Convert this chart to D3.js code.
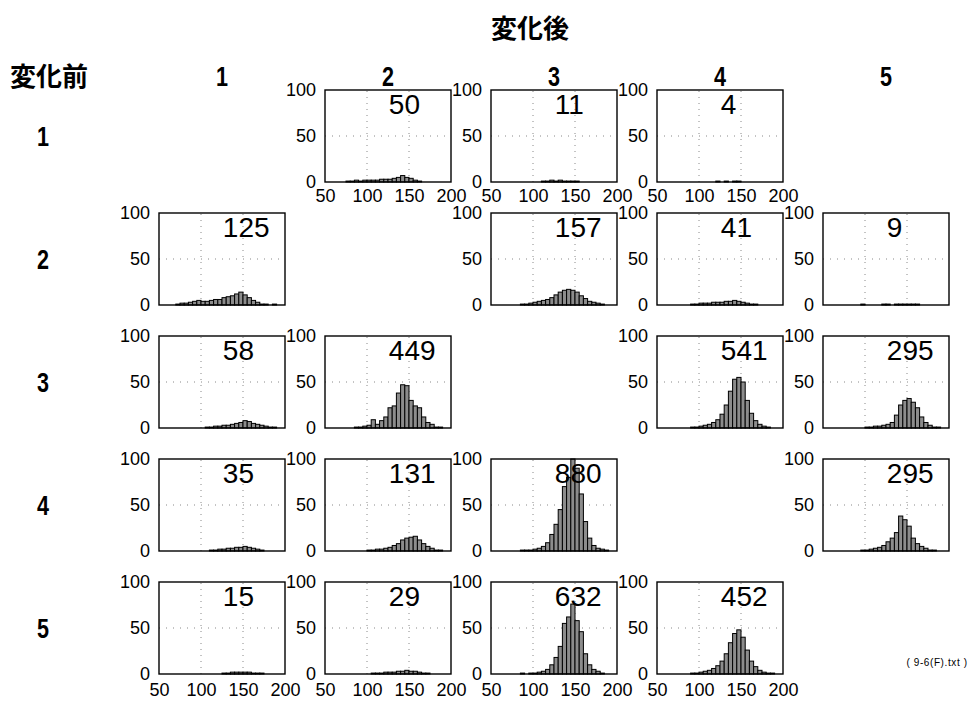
<!DOCTYPE html>
<html>
<head>
<meta charset="utf-8">
<script src="https://cdn.jsdelivr.net/npm/d3@7"></script>
<style>
  body { margin: 0; background: #fff; }
  svg text { font-family: "Liberation Sans", Arial, sans-serif; fill: #000; }
  .jp { font-family: "Noto Sans CJK JP", sans-serif; font-weight: 700; }
</style>
</head>
<body>
<div id="chart"></div>
<script>
// define variables
const width = 979;
const height = 708;

// panel grid: row = before (変化前), col = after (変化後)
const categories = [1, 2, 3, 4, 5];
const panelRow   = [1, 1, 1, 2, 2, 2, 2, 3, 3, 3, 3, 4, 4, 4, 4, 5, 5, 5, 5];
const panelCol   = [2, 3, 4, 1, 3, 4, 5, 1, 2, 4, 5, 1, 2, 3, 5, 1, 2, 3, 4];
const panelCount = [50, 11, 4, 125, 157, 41, 9, 58, 449, 541, 295, 35, 131, 880, 295, 15, 29, 632, 452];

// histogram bins (width 5), first bin start per panel, then bin heights
const binWidth = 5;
const binStart = [75, 110, 120, 70, 85, 90, 95, 105, 85, 90, 100, 110, 100, 85, 95, 125, 105, 85, 90];
const binCounts = [
  [1,1,2,1,2,2,2,2,3,3,3,4,5,7,5,4,2,1],
  [1,1,2,1,2,1,1,1,1],
  [1,0,1,0,1,1],
  [1,2,2,3,4,5,4,4,5,6,6,8,9,10,12,14,11,8,5,3,1,1,0,1],
  [1,1,2,3,4,5,6,8,11,14,16,17,16,14,10,7,4,3,2,1],
  [1,1,2,2,2,3,3,3,4,4,5,4,3,2,1,1],
  [1,0,0,0,0,1,1,0,1,1,1,1,1,1],
  [1,1,2,2,3,3,4,5,6,8,7,5,4,3,2,1,1],
  [1,1,2,3,9,4,8,12,22,24,38,47,46,30,24,22,12,6,4,1,1],
  [1,1,2,3,4,6,9,15,25,40,53,55,50,30,16,8,4,2,1],
  [1,1,2,2,3,4,6,14,25,30,32,28,22,12,6,3,1,1],
  [1,1,2,2,3,3,4,4,5,4,3,2,1],
  [1,1,2,2,3,4,6,8,12,14,15,16,12,8,5,3,1,1],
  [1,1,1,2,3,5,9,18,29,45,70,80,104,90,62,32,14,6,3,2,1],
  [1,1,2,3,4,6,10,14,20,38,34,27,14,8,5,3,1,1],
  [1,1,2,2,2,2,2,1,1,1],
  [1,1,1,2,2,2,3,3,4,3,3,2,1,1],
  [1,0,1,1,2,3,5,10,18,30,55,62,76,58,46,22,10,5,3,1],
  [1,1,2,3,4,6,9,14,22,34,44,48,40,26,14,8,4,2,1,1]
];
const xTicks = [50, 100, 150, 200];
const yTicks = [0, 50, 100];
const xGrid = [100, 150];
const yGrid = [50];

const pw = 126, ph = 92;

const svg = d3.select("#chart")
  .append("svg")
  .attr("width", width)
  .attr("height", height);

// panel placement scales
const colX = d3.scaleLinear().domain([1, 5]).range([159, 823]);
const rowY = d3.scaleLinear().domain([1, 5]).range([90, 582]);

// inside each panel
const x = d3.scaleLinear().domain([50, 200]).range([0, pw]);
const y = d3.scaleLinear().domain([0, 100]).range([ph, 0]);

///
/// HEADERS
///

svg.append("text")
  .attr("class", "jp")
  .attr("x", 530).attr("y", 38)
  .attr("text-anchor", "middle")
  .attr("font-size", 26)
  .text("変化後");

svg.append("text")
  .attr("class", "jp")
  .attr("x", 10).attr("y", 86)
  .attr("font-size", 26)
  .text("変化前");

svg.selectAll(".colhead")
  .data(categories)
  .join("text")
  .attr("class", "colhead")
  .attr("x", d => colX(d) + pw / 2)
  .attr("y", 86)
  .attr("text-anchor", "middle")
  .attr("font-size", 27)
  .attr("font-weight", 700)
  .attr("transform-origin", d => `${colX(d) + pw / 2}px 86px`)
  .attr("transform", "scale(0.8,1)")
  .text(d => d);

svg.selectAll(".rowhead")
  .data(categories)
  .join("text")
  .attr("class", "rowhead")
  .attr("x", 43)
  .attr("y", d => rowY(d) + ph / 2 + 10)
  .attr("text-anchor", "middle")
  .attr("font-size", 27)
  .attr("font-weight", 700)
  .attr("transform-origin", d => `43px ${rowY(d) + ph / 2 + 10}px`)
  .attr("transform", "scale(0.8,1)")
  .text(d => d);

///
/// PANELS
///

panelRow.forEach((r, i) => {
  const c = panelCol[i];
  const g = svg.append("g")
    .attr("transform", `translate(${colX(c)},${rowY(r)})`);

  // dotted grid
  g.selectAll(".vgrid")
    .data(xGrid)
    .join("line")
    .attr("x1", d => x(d)).attr("x2", d => x(d))
    .attr("y1", y(0)).attr("y2", y(100))
    .attr("stroke", "#888")
    .attr("stroke-width", 1)
    .attr("stroke-dasharray", "1,5");
  g.selectAll(".hgrid")
    .data(yGrid)
    .join("line")
    .attr("x1", 0).attr("x2", pw)
    .attr("y1", d => y(d)).attr("y2", d => y(d))
    .attr("stroke", "#888")
    .attr("stroke-width", 1)
    .attr("stroke-dasharray", "1,6");

  // histogram bars
  const bins = binCounts[i].map((v, j) => ({ x0: binStart[i] + j * binWidth, v: v }))
    .filter(d => d.v > 0);
  g.selectAll("rect.bar")
    .data(bins)
    .join("rect")
    .attr("class", "bar")
    .attr("x", d => x(d.x0))
    .attr("width", d => x(d.x0 + binWidth) - x(d.x0))
    .attr("y", d => y(Math.min(d.v, 100)))
    .attr("height", d => y(0) - y(Math.min(d.v, 100)))
    .attr("fill", "#8c8c8c")
    .attr("stroke", "#000")
    .attr("stroke-width", 1);

  // frame
  g.append("rect")
    .attr("width", pw).attr("height", ph)
    .attr("fill", "none")
    .attr("stroke", "#000")
    .attr("stroke-width", 1.4);

  // count label
  g.append("text")
    .attr("x", x(126))
    .attr("y", 24)
    .attr("font-size", 28)
    .text(panelCount[i]);

  // y axis
  const ya = g.append("g")
    .call(d3.axisLeft(y).tickValues(yTicks).tickSize(0).tickPadding(9));
  ya.select(".domain").remove();
  ya.selectAll("text")
    .attr("font-size", 18)
    .attr("font-family", "Liberation Sans, Arial, sans-serif")
    .attr("fill", "#000");

  // x axis only on top and bottom rows
  if (r === 1 || r === 5) {
    const xa = g.append("g")
      .attr("transform", `translate(0,${ph})`)
      .call(d3.axisBottom(x).tickValues(xTicks).tickSize(0).tickPadding(r === 1 ? 7 : 9));
    xa.select(".domain").remove();
    xa.selectAll("text")
      .attr("font-size", 18)
      .attr("font-family", "Liberation Sans, Arial, sans-serif")
      .attr("fill", "#000");
  }
});

// file note
svg.append("text")
  .attr("x", 937).attr("y", 666)
  .attr("text-anchor", "middle")
  .attr("font-size", 10)
  .attr("letter-spacing", 0.6)
  .text("( 9-6(F).txt )");
</script>
</body>
</html>
